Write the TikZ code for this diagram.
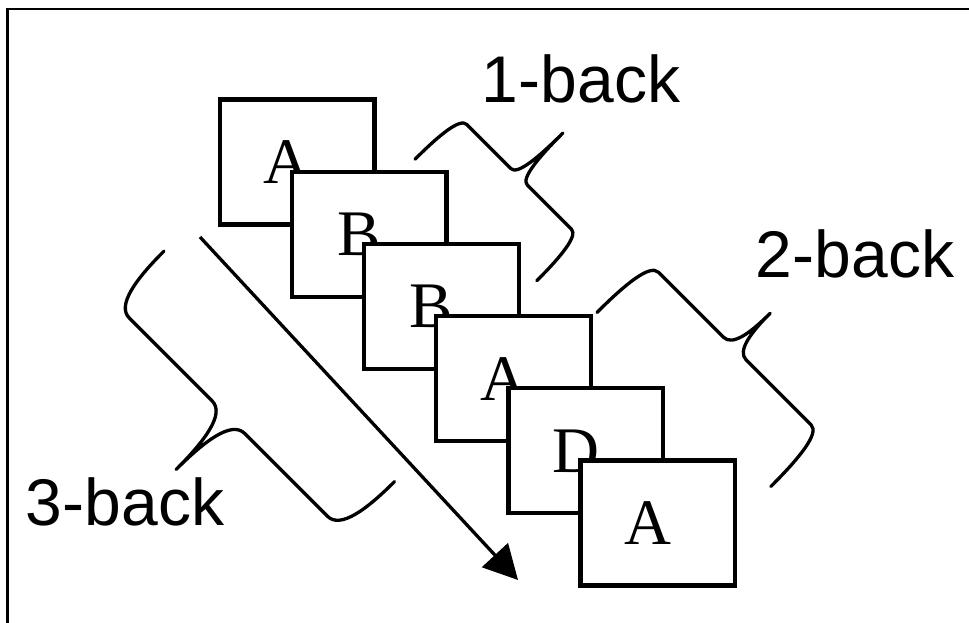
\documentclass[tikz,border=0pt]{standalone}
\usepackage{fontspec}
\setmainfont{Liberation Serif}
\newfontfamily\labelfont{Liberation Sans}
\usetikzlibrary{arrows.meta}
% #1 cx, #2 cy, #3 v-vector, #4 L, #5 end depth, #6 tip depth, #7 hook width, #8 tip half width
\newcommand\kbrace[8]{%
\begin{scope}[shift={(#1,#2)}, x={(0.7071pt,-0.7071pt)}, y={#3}]
\draw[bracestyle] (-#4,-#5) .. controls (-#4,{-0.45*#5}) and ({-#4+0.2*#7},0) .. ({-#4+#7},0)
 -- (-#8,0) .. controls ({-0.2*#8},0) and (0,{0.45*#6}) .. (0,#6)
 .. controls (0,{0.45*#6}) and ({0.2*#8},0) .. (#8,0)
 -- ({#4-#7},0) .. controls ({#4-0.2*#7},0) and (#4,{-0.45*#5}) .. (#4,-#5);
\end{scope}}
\begin{document}
\begin{tikzpicture}[x=1pt,y=-1pt,
 card/.style={draw, line width=4.3pt, fill=white, minimum width=154.5pt, minimum height=125pt, inner sep=0pt, outer sep=0pt},
 letter/.style={inner sep=0pt, font=\fontsize{65pt}{70pt}\selectfont},
 backlabel/.style={inner sep=0pt, anchor=base, font=\labelfont\fontsize{66pt}{70pt}\selectfont},
 bracestyle/.style={line width=3.3pt, line cap=round, line join=round},
 framestyle/.style={line width=2.5pt},
 arrowstyle/.style={line width=3.3pt, -{Triangle[length=34pt,width=35pt]}}]
\useasboundingbox (0,0) rectangle (969,623);
\draw[framestyle] (7.5,623) -- (7.5,8.8) -- (969,8.8);
\foreach \i/\t in {0/A,1/B,2/B,3/A,4/D,5/A}{
  \node[card] (c\i) at ({297.25+72.1*\i},{162+72.2*\i}) {};
  \node[letter] (t\i) at ([xshift=-10pt]c\i.center) {\t};
}
\coordinate (arrS) at (200,237);
\coordinate (arrE) at (518,580);
\draw[arrowstyle] (arrS) -- (arrE);
\kbrace{519.1}{176.8}{(0.7071pt,0.7071pt)}{86}{61}{62}{12}{11.5}
\kbrace{734.8}{348.6}{(0.7071pt,0.7071pt)}{123}{72}{50}{15}{16}
\kbrace{228.4}{417.2}{(-0.7071pt,-0.7071pt)}{163}{72}{74}{23}{23}
\node[backlabel] (l1) at (581,103) {1-back};
\node[backlabel] (l2) at (855,277) {2-back};
\node[backlabel] (l3) at (125,525) {3-back};
\end{tikzpicture}
\end{document}
